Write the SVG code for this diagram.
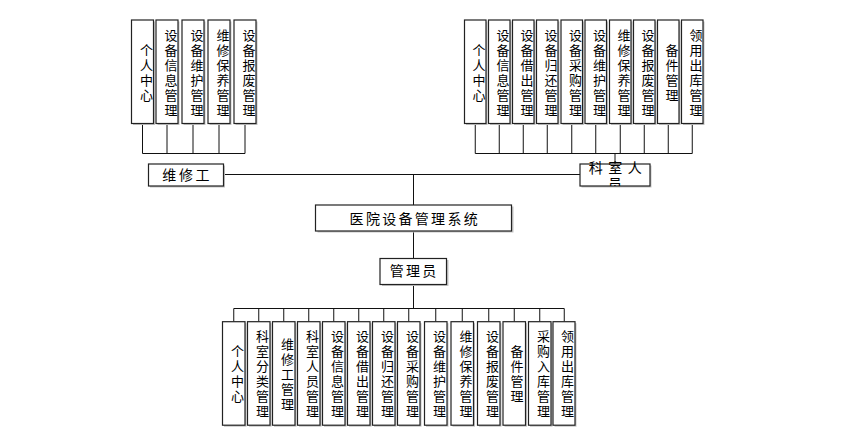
<svg xmlns="http://www.w3.org/2000/svg" width="845" height="435" viewBox="0 0 845 435">
<style>
.bx{fill:#fff;stroke:#222;stroke-width:1.2}
.sh{fill:#c4c4c4}
.ln{fill:none;stroke:#111;stroke-width:1}
.t{font-family:"Liberation Sans","Noto Sans CJK SC","Noto Sans CJK TC",sans-serif;font-size:14px;fill:#000}
.v{text-anchor:middle;font-size:13px}
.h{text-anchor:middle;letter-spacing:2.3px}
</style>
<defs>
<clipPath id="ckc"><rect x="570" y="150" width="90" height="36"/></clipPath>
</defs>
<rect width="845" height="435" fill="#fff"/>
<g id="connectors">
<path class="ln" d="M142.5,123.5V153.5M167,123.5V153.5M193,123.5V153.5M219,123.5V153.5M245,123.5V153.5M142.5,153.5H245"/>
<path class="ln" d="M475.25,123.5V153.5M499.25,123.5V153.5M523.25,123.5V153.5M547.25,123.5V153.5M571.75,123.5V153.5M595.75,123.5V153.5M620.25,123.5V153.5M644.25,123.5V153.5M668.25,123.5V153.5M692.25,123.5V153.5M475.25,153.5H692.25M615,153.5V164"/>
<path class="ln" d="M223.5,174.5H580M413.5,174.5V205M413.5,231V258.5M413.5,284.5V308.5"/>
<path class="ln" d="M233.75,308.5H564.25M233.75,308.5V321.7M258.75,308.5V321.7M283.75,308.5V321.7M308.75,308.5V321.7M333.75,308.5V321.7M358.75,308.5V321.7M383.75,308.5V321.7M408.75,308.5V321.7M435.75,308.5V321.7M462.25,308.5V321.7M488.75,308.5V321.7M514.25,308.5V321.7M539.75,308.5V321.7M564.25,308.5V321.7"/>
</g>
<g id="root">
<rect class="sh" x="317.5" y="206.5" width="196" height="26"/>
<rect class="bx" x="315.5" y="205" width="196" height="26"/>
<text class="t h" x="414.8" y="223.5">医院设备管理系统</text>
</g>
<g id="admin">
<rect class="sh" x="382" y="260" width="66.5" height="26"/>
<rect class="bx" x="380" y="258.5" width="66.5" height="26"/>
<text class="t h" x="414.2" y="276">管理员</text>
</g>
<g id="repairman">
<rect class="sh" x="150" y="165.5" width="75" height="22"/>
<rect class="bx" x="148.5" y="164" width="75" height="22"/>
<text class="t" x="187.2" y="179.5" text-anchor="middle" letter-spacing="2.6">维修工</text>
</g>
<g id="dept-staff">
<rect class="sh" x="581.5" y="165.5" width="70" height="22"/>
<rect class="bx" x="580" y="164" width="70" height="22"/>
<g clip-path="url(#ckc)">
<text class="t" x="618" y="172.5" text-anchor="middle" letter-spacing="5.5">科室人</text>
<text class="t" x="615" y="188.5" text-anchor="middle">员</text>
</g>
</g>
<g id="tl-1"><rect class="sh" x="133" y="21.5" width="22" height="103.5"/><rect class="bx" x="131.5" y="20" width="22" height="103.5"/><text class="t v" x="146.5" y="55"><tspan>个</tspan><tspan x="146.5" dy="15">人</tspan><tspan x="146.5" dy="15">中</tspan><tspan x="146.5" dy="15">心</tspan></text></g>
<g id="tl-2"><rect class="sh" x="157.5" y="21.5" width="22" height="103.5"/><rect class="bx" x="156" y="20" width="22" height="103.5"/><text class="t v" x="171" y="40"><tspan>设</tspan><tspan x="171" dy="15">备</tspan><tspan x="171" dy="15">信</tspan><tspan x="171" dy="15">息</tspan><tspan x="171" dy="15">管</tspan><tspan x="171" dy="15">理</tspan></text></g>
<g id="tl-3"><rect class="sh" x="183.5" y="21.5" width="22" height="103.5"/><rect class="bx" x="182" y="20" width="22" height="103.5"/><text class="t v" x="197" y="40"><tspan>设</tspan><tspan x="197" dy="15">备</tspan><tspan x="197" dy="15">维</tspan><tspan x="197" dy="15">护</tspan><tspan x="197" dy="15">管</tspan><tspan x="197" dy="15">理</tspan></text></g>
<g id="tl-4"><rect class="sh" x="209.5" y="21.5" width="22" height="103.5"/><rect class="bx" x="208" y="20" width="22" height="103.5"/><text class="t v" x="223" y="40"><tspan>维</tspan><tspan x="223" dy="15">修</tspan><tspan x="223" dy="15">保</tspan><tspan x="223" dy="15">养</tspan><tspan x="223" dy="15">管</tspan><tspan x="223" dy="15">理</tspan></text></g>
<g id="tl-5"><rect class="sh" x="235.5" y="21.5" width="22" height="103.5"/><rect class="bx" x="234" y="20" width="22" height="103.5"/><text class="t v" x="249" y="40"><tspan>设</tspan><tspan x="249" dy="15">备</tspan><tspan x="249" dy="15">报</tspan><tspan x="249" dy="15">废</tspan><tspan x="249" dy="15">管</tspan><tspan x="249" dy="15">理</tspan></text></g>
<g id="tr-1"><rect class="sh" x="466" y="21.5" width="21.5" height="103.5"/><rect class="bx" x="464.5" y="20" width="21.5" height="103.5"/><text class="t v" x="479" y="55"><tspan>个</tspan><tspan x="479" dy="15">人</tspan><tspan x="479" dy="15">中</tspan><tspan x="479" dy="15">心</tspan></text></g>
<g id="tr-2"><rect class="sh" x="490" y="21.5" width="21.5" height="103.5"/><rect class="bx" x="488.5" y="20" width="21.5" height="103.5"/><text class="t v" x="503" y="40"><tspan>设</tspan><tspan x="503" dy="15">备</tspan><tspan x="503" dy="15">信</tspan><tspan x="503" dy="15">息</tspan><tspan x="503" dy="15">管</tspan><tspan x="503" dy="15">理</tspan></text></g>
<g id="tr-3"><rect class="sh" x="514" y="21.5" width="21.5" height="103.5"/><rect class="bx" x="512.5" y="20" width="21.5" height="103.5"/><text class="t v" x="527" y="40"><tspan>设</tspan><tspan x="527" dy="15">备</tspan><tspan x="527" dy="15">借</tspan><tspan x="527" dy="15">出</tspan><tspan x="527" dy="15">管</tspan><tspan x="527" dy="15">理</tspan></text></g>
<g id="tr-4"><rect class="sh" x="538" y="21.5" width="21.5" height="103.5"/><rect class="bx" x="536.5" y="20" width="21.5" height="103.5"/><text class="t v" x="551" y="40"><tspan>设</tspan><tspan x="551" dy="15">备</tspan><tspan x="551" dy="15">归</tspan><tspan x="551" dy="15">还</tspan><tspan x="551" dy="15">管</tspan><tspan x="551" dy="15">理</tspan></text></g>
<g id="tr-5"><rect class="sh" x="562.5" y="21.5" width="21.5" height="103.5"/><rect class="bx" x="561" y="20" width="21.5" height="103.5"/><text class="t v" x="575.5" y="40"><tspan>设</tspan><tspan x="575.5" dy="15">备</tspan><tspan x="575.5" dy="15">采</tspan><tspan x="575.5" dy="15">购</tspan><tspan x="575.5" dy="15">管</tspan><tspan x="575.5" dy="15">理</tspan></text></g>
<g id="tr-6"><rect class="sh" x="586.5" y="21.5" width="21.5" height="103.5"/><rect class="bx" x="585" y="20" width="21.5" height="103.5"/><text class="t v" x="599.5" y="40"><tspan>设</tspan><tspan x="599.5" dy="15">备</tspan><tspan x="599.5" dy="15">维</tspan><tspan x="599.5" dy="15">护</tspan><tspan x="599.5" dy="15">管</tspan><tspan x="599.5" dy="15">理</tspan></text></g>
<g id="tr-7"><rect class="sh" x="611" y="21.5" width="21.5" height="103.5"/><rect class="bx" x="609.5" y="20" width="21.5" height="103.5"/><text class="t v" x="624" y="40"><tspan>维</tspan><tspan x="624" dy="15">修</tspan><tspan x="624" dy="15">保</tspan><tspan x="624" dy="15">养</tspan><tspan x="624" dy="15">管</tspan><tspan x="624" dy="15">理</tspan></text></g>
<g id="tr-8"><rect class="sh" x="635" y="21.5" width="21.5" height="103.5"/><rect class="bx" x="633.5" y="20" width="21.5" height="103.5"/><text class="t v" x="648" y="40"><tspan>设</tspan><tspan x="648" dy="15">备</tspan><tspan x="648" dy="15">报</tspan><tspan x="648" dy="15">废</tspan><tspan x="648" dy="15">管</tspan><tspan x="648" dy="15">理</tspan></text></g>
<g id="tr-9"><rect class="sh" x="659" y="21.5" width="21.5" height="103.5"/><rect class="bx" x="657.5" y="20" width="21.5" height="103.5"/><text class="t v" x="672" y="55"><tspan>备</tspan><tspan x="672" dy="15">件</tspan><tspan x="672" dy="15">管</tspan><tspan x="672" dy="15">理</tspan></text></g>
<g id="tr-10"><rect class="sh" x="683" y="21.5" width="21.5" height="103.5"/><rect class="bx" x="681.5" y="20" width="21.5" height="103.5"/><text class="t v" x="696" y="40"><tspan>领</tspan><tspan x="696" dy="15">用</tspan><tspan x="696" dy="15">出</tspan><tspan x="696" dy="15">库</tspan><tspan x="696" dy="15">管</tspan><tspan x="696" dy="15">理</tspan></text></g>
<g id="b-1"><rect class="sh" x="224" y="323.2" width="22.5" height="103.5"/><rect class="bx" x="222.5" y="321.7" width="22.5" height="103.5"/><text class="t v" x="237.5" y="356"><tspan>个</tspan><tspan x="237.5" dy="15">人</tspan><tspan x="237.5" dy="15">中</tspan><tspan x="237.5" dy="15">心</tspan></text></g>
<g id="b-2"><rect class="sh" x="249" y="323.2" width="22.5" height="103.5"/><rect class="bx" x="247.5" y="321.7" width="22.5" height="103.5"/><text class="t v" x="262.5" y="341"><tspan>科</tspan><tspan x="262.5" dy="15">室</tspan><tspan x="262.5" dy="15">分</tspan><tspan x="262.5" dy="15">类</tspan><tspan x="262.5" dy="15">管</tspan><tspan x="262.5" dy="15">理</tspan></text></g>
<g id="b-3"><rect class="sh" x="274" y="323.2" width="22.5" height="103.5"/><rect class="bx" x="272.5" y="321.7" width="22.5" height="103.5"/><text class="t v" x="287.5" y="348.5"><tspan>维</tspan><tspan x="287.5" dy="15">修</tspan><tspan x="287.5" dy="15">工</tspan><tspan x="287.5" dy="15">管</tspan><tspan x="287.5" dy="15">理</tspan></text></g>
<g id="b-4"><rect class="sh" x="299" y="323.2" width="22.5" height="103.5"/><rect class="bx" x="297.5" y="321.7" width="22.5" height="103.5"/><text class="t v" x="312.5" y="341"><tspan>科</tspan><tspan x="312.5" dy="15">室</tspan><tspan x="312.5" dy="15">人</tspan><tspan x="312.5" dy="15">员</tspan><tspan x="312.5" dy="15">管</tspan><tspan x="312.5" dy="15">理</tspan></text></g>
<g id="b-5"><rect class="sh" x="324" y="323.2" width="22.5" height="103.5"/><rect class="bx" x="322.5" y="321.7" width="22.5" height="103.5"/><text class="t v" x="337.5" y="341"><tspan>设</tspan><tspan x="337.5" dy="15">备</tspan><tspan x="337.5" dy="15">信</tspan><tspan x="337.5" dy="15">息</tspan><tspan x="337.5" dy="15">管</tspan><tspan x="337.5" dy="15">理</tspan></text></g>
<g id="b-6"><rect class="sh" x="349" y="323.2" width="22.5" height="103.5"/><rect class="bx" x="347.5" y="321.7" width="22.5" height="103.5"/><text class="t v" x="362.5" y="341"><tspan>设</tspan><tspan x="362.5" dy="15">备</tspan><tspan x="362.5" dy="15">借</tspan><tspan x="362.5" dy="15">出</tspan><tspan x="362.5" dy="15">管</tspan><tspan x="362.5" dy="15">理</tspan></text></g>
<g id="b-7"><rect class="sh" x="374" y="323.2" width="22.5" height="103.5"/><rect class="bx" x="372.5" y="321.7" width="22.5" height="103.5"/><text class="t v" x="387.5" y="341"><tspan>设</tspan><tspan x="387.5" dy="15">备</tspan><tspan x="387.5" dy="15">归</tspan><tspan x="387.5" dy="15">还</tspan><tspan x="387.5" dy="15">管</tspan><tspan x="387.5" dy="15">理</tspan></text></g>
<g id="b-8"><rect class="sh" x="399" y="323.2" width="22.5" height="103.5"/><rect class="bx" x="397.5" y="321.7" width="22.5" height="103.5"/><text class="t v" x="412.5" y="341"><tspan>设</tspan><tspan x="412.5" dy="15">备</tspan><tspan x="412.5" dy="15">采</tspan><tspan x="412.5" dy="15">购</tspan><tspan x="412.5" dy="15">管</tspan><tspan x="412.5" dy="15">理</tspan></text></g>
<g id="b-9"><rect class="sh" x="426" y="323.2" width="22.5" height="103.5"/><rect class="bx" x="424.5" y="321.7" width="22.5" height="103.5"/><text class="t v" x="439.5" y="341"><tspan>设</tspan><tspan x="439.5" dy="15">备</tspan><tspan x="439.5" dy="15">维</tspan><tspan x="439.5" dy="15">护</tspan><tspan x="439.5" dy="15">管</tspan><tspan x="439.5" dy="15">理</tspan></text></g>
<g id="b-10"><rect class="sh" x="452.5" y="323.2" width="22.5" height="103.5"/><rect class="bx" x="451" y="321.7" width="22.5" height="103.5"/><text class="t v" x="466" y="341"><tspan>维</tspan><tspan x="466" dy="15">修</tspan><tspan x="466" dy="15">保</tspan><tspan x="466" dy="15">养</tspan><tspan x="466" dy="15">管</tspan><tspan x="466" dy="15">理</tspan></text></g>
<g id="b-11"><rect class="sh" x="479" y="323.2" width="22.5" height="103.5"/><rect class="bx" x="477.5" y="321.7" width="22.5" height="103.5"/><text class="t v" x="492.5" y="341"><tspan>设</tspan><tspan x="492.5" dy="15">备</tspan><tspan x="492.5" dy="15">报</tspan><tspan x="492.5" dy="15">废</tspan><tspan x="492.5" dy="15">管</tspan><tspan x="492.5" dy="15">理</tspan></text></g>
<g id="b-12"><rect class="sh" x="504.5" y="323.2" width="22.5" height="103.5"/><rect class="bx" x="503" y="321.7" width="22.5" height="103.5"/><text class="t v" x="517" y="356"><tspan>备</tspan><tspan x="517" dy="15">件</tspan><tspan x="517" dy="15">管</tspan><tspan x="517" dy="15">理</tspan></text></g>
<g id="b-13"><rect class="sh" x="530" y="323.2" width="22.5" height="103.5"/><rect class="bx" x="528.5" y="321.7" width="22.5" height="103.5"/><text class="t v" x="543.5" y="341"><tspan>采</tspan><tspan x="543.5" dy="15">购</tspan><tspan x="543.5" dy="15">入</tspan><tspan x="543.5" dy="15">库</tspan><tspan x="543.5" dy="15">管</tspan><tspan x="543.5" dy="15">理</tspan></text></g>
<g id="b-14"><rect class="sh" x="554.5" y="323.2" width="22" height="103.5"/><rect class="bx" x="553" y="321.7" width="22" height="103.5"/><text class="t v" x="567.5" y="341"><tspan>领</tspan><tspan x="567.5" dy="15">用</tspan><tspan x="567.5" dy="15">出</tspan><tspan x="567.5" dy="15">库</tspan><tspan x="567.5" dy="15">管</tspan><tspan x="567.5" dy="15">理</tspan></text></g>
</svg>
